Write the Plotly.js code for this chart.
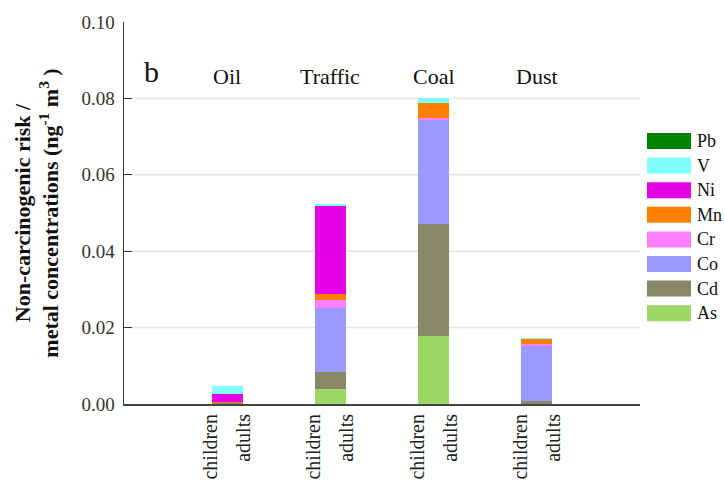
<!DOCTYPE html>
<html>
<head>
<meta charset="utf-8">
<script src="https://cdn.plot.ly/plotly-3.0.1.min.js"></script>
<style>
  html, body { margin: 0; padding: 0; background: #fff; }
  #chart { width: 725px; height: 490px; }
</style>
</head>
<body>
<div id="chart"></div>
<script>
// Source groups (one stacked bar each)
const groups = ['Oil', 'Traffic', 'Coal', 'Dust'];
const groupPos = [1, 2, 3, 4];

// Non-carcinogenic risk contribution of each metal, per source
const As = [0.0001, 0.0039, 0.0179, 0.0000];
const Cd = [0.0002, 0.0046, 0.0292, 0.0007];
const Co = [0.0000, 0.0166, 0.0272, 0.0144];
const Cr = [0.0000, 0.0022, 0.0005, 0.0005];
const Mn = [0.0003, 0.0016, 0.0041, 0.0014];
const Ni = [0.0020, 0.0230, 0.0000, 0.0000];
const V  = [0.0020, 0.0005, 0.0013, 0.0003];
const Pb = [0.0000, 0.0000, 0.0000, 0.0000];

// Population labels under each bar
const tickPos = [0.84, 1.16, 1.84, 2.16, 2.84, 3.16, 3.84, 4.16];
const tickText = ['children', 'adults', 'children', 'adults', 'children', 'adults', 'children', 'adults'];
const yTicks = [0, 0.02, 0.04, 0.06, 0.08, 0.10];
const gridVals = [0.02, 0.04, 0.06, 0.08];

// Stack order, bottom to top
const series = [
  { name: 'As', y: As, color: '#9bd866' },
  { name: 'Cd', y: Cd, color: '#888866' },
  { name: 'Co', y: Co, color: '#9999ff' },
  { name: 'Cr', y: Cr, color: '#ff80ff' },
  { name: 'Mn', y: Mn, color: '#ff8000' },
  { name: 'Ni', y: Ni, color: '#e300e3' },
  { name: 'V',  y: V,  color: '#80ffff' },
  { name: 'Pb', y: Pb, color: '#008000' }
];

const FONT = '"Liberation Serif", "Times New Roman", serif';
const W = 725, H = 490;
const M = { l: 124, r: 85, t: 22, b: 86 };
const pw = W - M.l - M.r, ph = H - M.t - M.b;
const px = x => (x - M.l) / pw;
const py = y => (H - M.b - y) / ph;

const traces = series.map(s => ({
  type: 'bar',
  name: s.name,
  x: groupPos,
  y: s.y,
  width: 0.3,
  marker: { color: s.color, line: { width: 0 } },
  showlegend: false,
  hoverinfo: 'name+y'
}));

const shapes = [];
const annotations = [];

// light horizontal guides
gridVals.forEach(v => shapes.push({
  type: 'line', xref: 'paper', yref: 'y', x0: 0, x1: 1, y0: v, y1: v,
  layer: 'below', line: { color: '#e4e4e4', width: 1.5 }
}));

// legend: top entry is the last series in the stack
series.slice().reverse().forEach((s, i) => {
  const yc = 141 + 24.6 * i;
  shapes.push({
    type: 'rect', xref: 'paper', yref: 'paper',
    x0: px(647), x1: px(691), y0: py(yc + 8), y1: py(yc - 8),
    fillcolor: s.color, line: { width: 0 }
  });
  annotations.push({
    xref: 'paper', yref: 'paper', x: px(695), y: py(yc),
    xanchor: 'left', yanchor: 'middle', showarrow: false,
    text: s.name, font: { family: FONT, size: 18, color: '#111' }
  });
});

// source names above the bars
groups.forEach((g, i) => annotations.push({
  xref: 'x', yref: 'paper', x: groupPos[i], y: py(77),
  xanchor: 'center', yanchor: 'middle', showarrow: false,
  text: g, font: { family: FONT, size: 22, color: '#111' }
}));

// panel letter
annotations.push({
  xref: 'paper', yref: 'paper', x: px(151), y: py(71),
  xanchor: 'center', yanchor: 'middle', showarrow: false,
  text: 'b', font: { family: FONT, size: 30, color: '#111' }
});

const layout = {
  width: W, height: H,
  margin: M,
  paper_bgcolor: '#fff', plot_bgcolor: '#fff',
  barmode: 'stack',
  font: { family: FONT, color: '#222' },
  showlegend: false,
  xaxis: {
    type: 'linear', range: [0, 5],
    tickvals: tickPos, ticktext: tickText, tickangle: -90,
    tickfont: { family: FONT, size: 20, color: '#222' },
    ticks: '', showgrid: false, zeroline: false,
    showline: true, linecolor: '#444', linewidth: 2
  },
  yaxis: {
    range: [0, 0.1],
    tickvals: yTicks, tickformat: '.2f',
    tickfont: { family: FONT, size: 19, color: '#333' },
    ticklabelstandoff: 4,
    ticks: 'inside', ticklen: 8, tickwidth: 1.3, tickcolor: '#333',
    showgrid: false, zeroline: false,
    showline: true, linecolor: '#333', linewidth: 1.5,
    title: {
      text: '<b>Non-carcinogenic risk /<br>metal concentrations (ng<sup>-1</sup> m<sup>3</sup> )</b>',
      font: { family: FONT, size: 22, color: '#111' },
      standoff: 16
    }
  },
  shapes: shapes,
  annotations: annotations
};

Plotly.newPlot('chart', traces, layout, { displayModeBar: false, staticPlot: true });
</script>
</body>
</html>
